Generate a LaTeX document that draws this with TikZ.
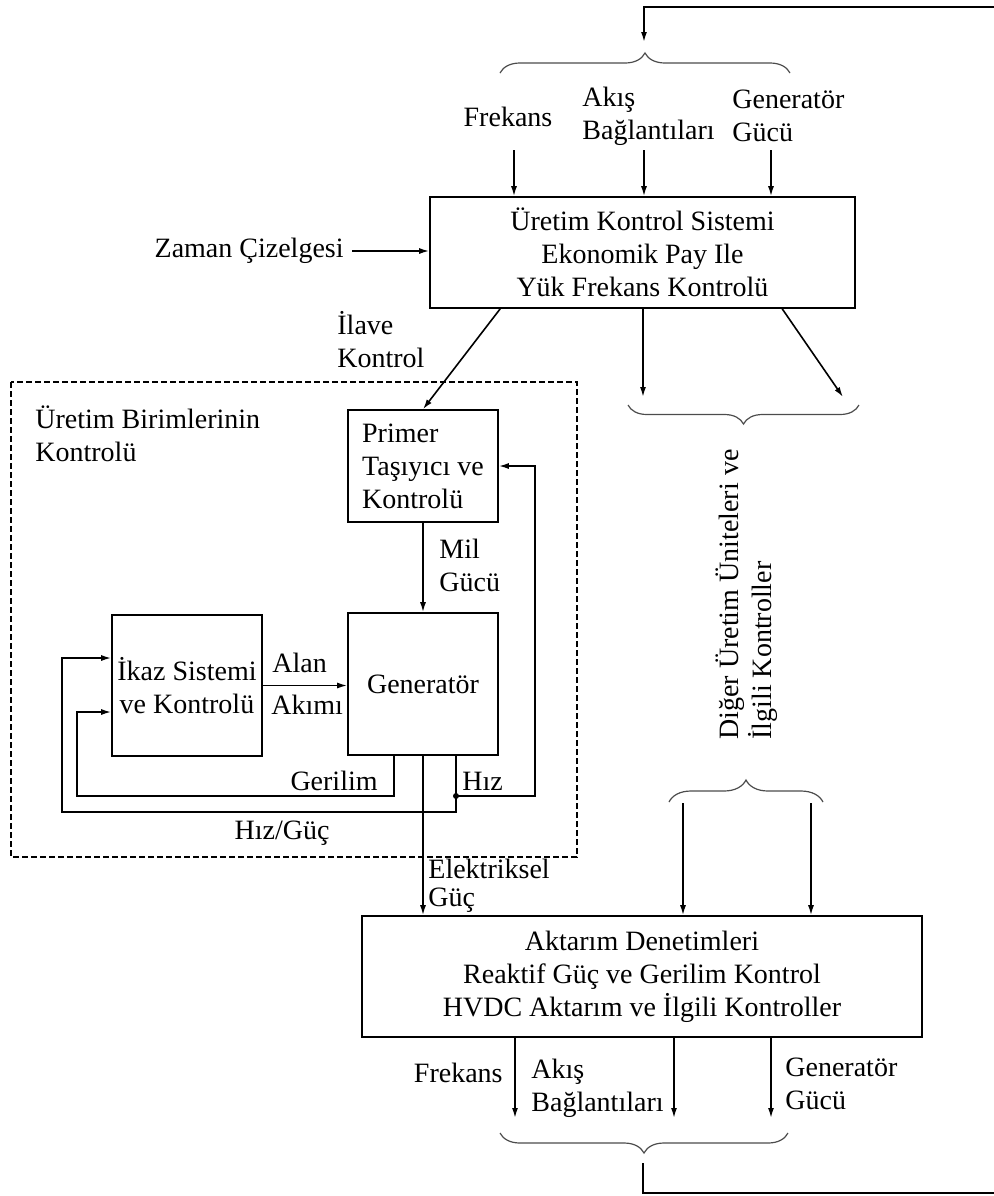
\documentclass[tikz,border=0pt]{standalone}
\usepackage{fontspec}
\setmainfont{Liberation Serif}
\usetikzlibrary{arrows.meta,decorations.pathreplacing}

\begin{document}
\begin{tikzpicture}[x=0.5pt,y=-0.5pt,
  font=\fontsize{14}{16.5}\selectfont,
  >={Latex[length=5pt,width=3pt]},
  box node/.style={draw,line width=0.8pt,inner sep=2pt,align=center},
  text node/.style={inner sep=0pt,align=left},
  flow/.style={->,line width=0.8pt},
  wire/.style={line width=0.8pt},
  curly/.style={decorate,decoration={brace,amplitude=#1},draw=black!70,line width=0.6pt}]

\useasboundingbox (0,0) rectangle (993,1196);

% kutular
\node[box node,minimum width=212.5pt,minimum height=55.5pt] (uks) at (642.5,252.5)
  {Üretim Kontrol Sistemi\\Ekonomik Pay Ile\\Yük Frekans Kontrolü};
\node[box node,align=left,minimum width=75pt,minimum height=56pt] (primer) at (423,466)
  {Primer\\Taşıyıcı ve\\Kontrolü};
\node[box node,minimum width=75pt,minimum height=71pt] (gen) at (423,684) {Generatör};
\node[box node,inner sep=0pt,minimum width=75pt,minimum height=70.5pt] (ikaz) at (187,685.5)
  {İkaz Sistemi\\ve Kontrolü};
\node[box node,minimum width=280pt,minimum height=60.5pt] (aktarim) at (642,976.5)
  {Aktarım Denetimleri\\Reaktif Güç ve Gerilim Kontrol\\HVDC Aktarım ve İlgili  Kontroller};

\draw[line width=0.8pt,dash pattern=on 3pt off 1.5pt] (11,382) rectangle (577,857);
\node[text node,anchor=west] (birim) at (35,434) {Üretim Birimlerinin\\Kontrolü};

% ust girisler
\coordinate (ustSag) at (1000,7);
\coordinate (ustUc) at (644,42);
\draw[flow] (ustSag) -| (ustUc);
\draw[curly=10pt] (500,73) -- (790,73);
\node[text node,anchor=center] (frk1) at (508,117) {Frekans};
\node[text node,anchor=west] (akis1) at (582,116) {Akış\\Bağlantıları};
\node[text node,anchor=west] (gg1) at (732,116) {Generatör\\Gücü};
\coordinate (ga) at (514,150);
\coordinate (gb) at (644,150);
\coordinate (gc) at (771,150);
\foreach \c in {ga,gb,gc}
  \draw[flow] (\c) -- (\c |- uks.north);

\node[text node,anchor=east] (zaman) at (344,251) {Zaman Çizelgesi};
\draw[flow,shorten <=4pt] (zaman.east) -- (zaman.east -| uks.west);

% ilave kontrol ve diger uniteler
\node[text node,anchor=west] (ilave) at (337,340) {İlave\\Kontrol};
\draw[flow] ([xshift=35.5pt]uks.south west) -- (primer.north);
\coordinate (du1) at (643,397);
\coordinate (du2) at (843,397);
\draw[flow] (uks.south -| du1) -- (du1);
\draw[flow] ([xshift=176.5pt]uks.south west) -- (du2);
\draw[curly=9.5pt] (859,405) -- (628,405);
\node[text node,rotate=90,anchor=west] (diger) at (747,740)
  {Diğer Üretim Üniteleri ve\\İlgili Kontroller};
\draw[curly=11pt] (669,802) -- (823,802);
\coordinate (da1) at (683,803);
\coordinate (da2) at (811,803);
\foreach \c in {da1,da2}
  \draw[flow] (\c) -- (\c |- aktarim.north);

% uretim birimi
\draw[flow] (primer.south) -- (gen.north);
\node[text node,anchor=west] (mil) at (439,565) {Mil\\Gücü};
\draw[flow] (ikaz.east) -- (ikaz.east -| gen.west);
\node[text node,anchor=west] (alan) at (272,663) {Alan};
\node[text node,anchor=west] (akim) at (271,705) {Akımı};

\coordinate (ger) at (394,796);
\coordinate (gerSol) at (77,712);
\draw[flow] (gen.south -| ger) -- (ger) -| (gerSol) -- (gerSol -| ikaz.west);
\node[text node,anchor=east] (gerilim) at (378,781) {Gerilim};

\coordinate (hiz) at (456,812);
\coordinate (hizSol) at (62,658);
\draw[flow] (gen.south -| hiz) -- (hiz) -| (hizSol) -- (hizSol -| ikaz.west);
\node[text node,anchor=west] (hizl) at (462,781) {Hız};
\node[text node] (hizguc) at (282,833) {Hız/Güç};

\coordinate (dugum) at (456,796);
\coordinate (geriSag) at (535,466);
\draw[flow] (dugum) -| (geriSag) -- (primer.east);
\fill (dugum) circle (1.5pt);

\draw[flow] (gen.south) -- (gen.south |- aktarim.north);
\node[text node,anchor=west] (elek) at (428,886) {Elektriksel\\[-2.5pt]Güç};

% alt cikislar
\coordinate (ca) at (515,1118);
\coordinate (cb) at (674,1118);
\coordinate (cc) at (771,1118);
\foreach \c in {ca,cb,cc}
  \draw[flow] (\c |- aktarim.south) -- (\c);
\node[text node,anchor=east] (frk2) at (503,1073) {Frekans};
\node[text node,anchor=west] (akis2) at (531,1088) {Akış\\Bağlantıları};
\node[text node,anchor=west] (gg2) at (785,1084) {Generatör\\Gücü};
\draw[curly=10pt] (788,1133) -- (500,1133);
\coordinate (altUc) at (643,1163);
\coordinate (altSag) at (1000,1193);
\draw[wire] (altUc) |- (altSag);

\end{tikzpicture}
\end{document}
